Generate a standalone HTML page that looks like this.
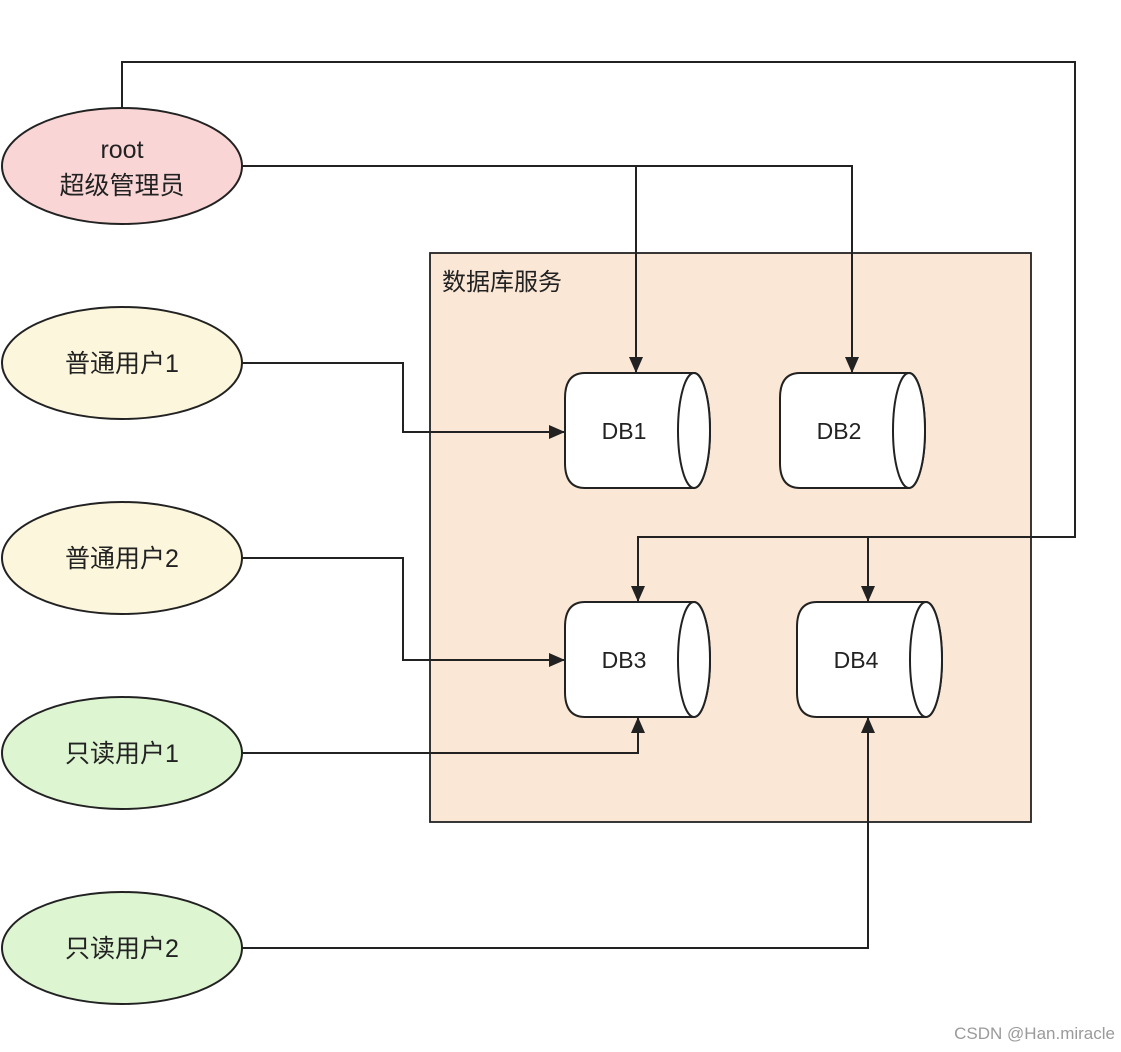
<!DOCTYPE html>
<html><head><meta charset="utf-8"><style>
html,body{margin:0;padding:0;background:#fff;}
svg{display:block;}
text{font-family:"Liberation Sans","Noto Sans CJK SC",sans-serif;fill:#222;}
</style></head><body>
<svg width="1121" height="1052" viewBox="0 0 1121 1052" xmlns="http://www.w3.org/2000/svg">
<defs>
<marker id="a" markerWidth="16" markerHeight="14" refX="15" refY="7" orient="auto" markerUnits="userSpaceOnUse" viewBox="0 0 16 14">
<path d="M0,0 L16,7 L0,14 Z" fill="#222"/>
</marker>
</defs>
<rect x="430" y="253" width="601" height="569" fill="#fbe7d5" stroke="#222" stroke-width="1.8"/>
<text x="442" y="290" font-size="24">数据库服务</text>

<g fill="none" stroke="#222" stroke-width="2">
<path d="M122,108 V62 H1075 V537 H638 V601" marker-end="url(#a)"/>
<path d="M868,537 V601" marker-end="url(#a)"/>
<path d="M242,166 H852 V372" marker-end="url(#a)"/>
<path d="M636,166 V372" marker-end="url(#a)"/>
<path d="M242,363 H403 V432 H564" marker-end="url(#a)"/>
<path d="M242,558 H403 V660 H564" marker-end="url(#a)"/>
<path d="M242,753 H638 V718" marker-end="url(#a)"/>
<path d="M242,948 H868 V718" marker-end="url(#a)"/>
</g>

<g stroke="#222" stroke-width="2">
<ellipse cx="122" cy="166" rx="120" ry="58" fill="#f9d5d5"/>
<ellipse cx="122" cy="363" rx="120" ry="56" fill="#fbf6dc"/>
<ellipse cx="122" cy="558" rx="120" ry="56" fill="#fbf6dc"/>
<ellipse cx="122" cy="753" rx="120" ry="56" fill="#def5d2"/>
<ellipse cx="122" cy="948" rx="120" ry="56" fill="#def5d2"/>
</g>
<g font-size="25" text-anchor="middle">
<text x="122" y="158">root</text>
<text x="122" y="194">超级管理员</text>
<text x="122" y="372">普通用户1</text>
<text x="122" y="567">普通用户2</text>
<text x="122" y="762">只读用户1</text>
<text x="122" y="957">只读用户2</text>
</g>

<g stroke="#222" stroke-width="2" fill="#fff">
<g transform="translate(565,373)">
<path d="M20,0 H129 A16,57.5 0 0 1 129,115 H20 Q0,115 0,90 V25 Q0,0 20,0 Z"/>
<ellipse cx="129" cy="57.5" rx="16" ry="57.5"/>
</g>
<g transform="translate(780,373)">
<path d="M20,0 H129 A16,57.5 0 0 1 129,115 H20 Q0,115 0,90 V25 Q0,0 20,0 Z"/>
<ellipse cx="129" cy="57.5" rx="16" ry="57.5"/>
</g>
<g transform="translate(565,602)">
<path d="M20,0 H129 A16,57.5 0 0 1 129,115 H20 Q0,115 0,90 V25 Q0,0 20,0 Z"/>
<ellipse cx="129" cy="57.5" rx="16" ry="57.5"/>
</g>
<g transform="translate(797,602)">
<path d="M20,0 H129 A16,57.5 0 0 1 129,115 H20 Q0,115 0,90 V25 Q0,0 20,0 Z"/>
<ellipse cx="129" cy="57.5" rx="16" ry="57.5"/>
</g>
</g>
<g font-size="23" text-anchor="middle">
<text x="624" y="439">DB1</text>
<text x="839" y="439">DB2</text>
<text x="624" y="668">DB3</text>
<text x="856" y="668">DB4</text>
</g>
<text x="1115" y="1039" font-size="17" text-anchor="end" style="fill:#9a9a9a">CSDN @Han.miracle</text>
</svg>
</body></html>
